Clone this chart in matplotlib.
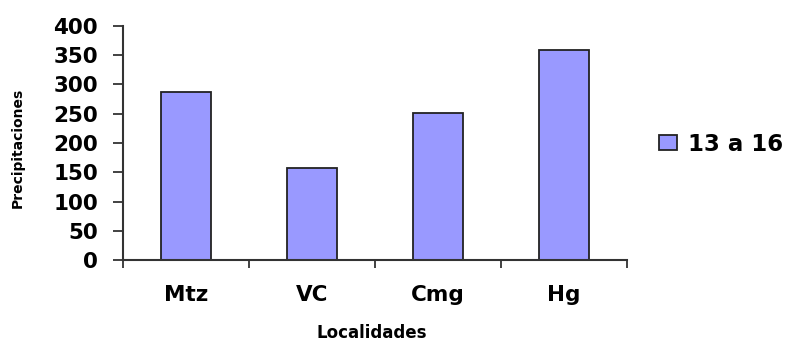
import matplotlib
matplotlib.use("Agg")
import matplotlib.pyplot as plt
import numpy as np

plt.rcParams['font.family'] = ['DejaVu Sans']

# Precipitation per locality
localidades = ["Mtz", "VC", "Cmg", "Hg"]
precipitaciones = [287, 157, 252, 359]
serie = "13 a 16"
y_ticks = [0, 50, 100, 150, 200, 250, 300, 350, 400]

fig = plt.figure(figsize=(7.9, 3.41), dpi=100)
ax = fig.add_axes([0.1557, 0.2375, 0.638, 0.6863])

x = np.arange(len(localidades))
ax.bar(x, precipitaciones, width=0.39, color="#9999FF", edgecolor="#222222",
       linewidth=1.3, label=serie, zorder=2)

ax.set_xlim(-0.5, len(localidades) - 0.5)
ax.set_ylim(0, 400)
ax.set_yticks(y_ticks)
ax.set_yticklabels([str(v) for v in y_ticks], fontsize=15.5, fontweight="bold")

# category ticks sit on the boundaries between groups
ax.set_xticks(np.arange(len(localidades) + 1) - 0.5)
ax.set_xticklabels([])
ax.set_xticks(x, minor=True)
ax.set_xticklabels(localidades, minor=True, fontsize=15.5, fontweight="bold")
ax.tick_params(axis="x", which="minor", length=0, pad=18)
ax.tick_params(axis="x", which="major", length=6, width=1.3, color="#333333", direction="out")
ax.tick_params(axis="y", length=7, width=1.3, color="#333333", direction="out", pad=11)

for s in ["top", "right"]:
    ax.spines[s].set_visible(False)
for s in ["left", "bottom"]:
    ax.spines[s].set_linewidth(1.5)
    ax.spines[s].set_color("#333333")

ax.set_ylabel("Precipitaciones", fontsize=10, fontweight="bold")
ax.yaxis.set_label_coords(-0.195, 0.48)
ax.set_xlabel("Localidades", fontsize=12, fontweight="bold")
ax.xaxis.set_label_coords(0.494, -0.272)

leg = ax.legend(loc="center left", bbox_to_anchor=(1.045, 0.495), frameon=False,
                prop={"weight": "bold", "size": 16.5},
                handlelength=0.8, handleheight=0.6, handletextpad=0.45,
                borderaxespad=0)

fig.savefig("out.png", dpi=100)
